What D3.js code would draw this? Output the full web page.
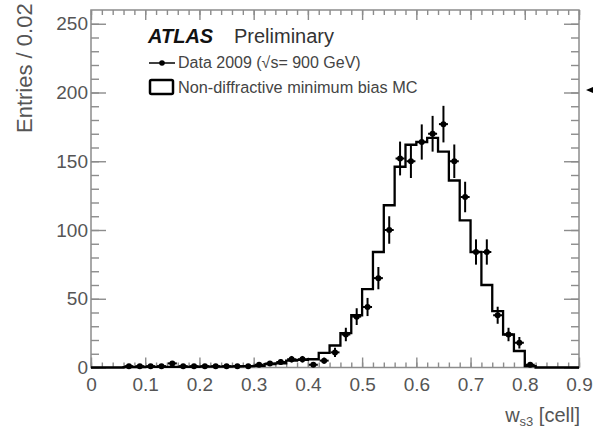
<!DOCTYPE html>
<html>
<head>
<meta charset="utf-8">
<script src="https://cdn.jsdelivr.net/npm/d3@7"></script>
<style>
  body { margin: 0; background: #fff; }
  text { font-family: "Liberation Sans", Arial, sans-serif; }
</style>
</head>
<body>
<div id="chart"></div>
<script>
// bin centres of w_s3, bin width 0.02
var binCenters = [0.01, 0.03, 0.05, 0.07, 0.09, 0.11, 0.13, 0.15, 0.17, 0.19,
    0.21, 0.23, 0.25, 0.27, 0.29, 0.31, 0.33, 0.35, 0.37, 0.39,
    0.41, 0.43, 0.45, 0.47, 0.49, 0.51, 0.53, 0.55, 0.57, 0.59,
    0.61, 0.63, 0.65, 0.67, 0.69, 0.71, 0.73, 0.75, 0.77, 0.79,
    0.81, 0.83, 0.85, 0.87, 0.89];
var binWidth = 0.02;

// non-diffractive minimum bias MC (histogram)
var mcValues = [0, 0, 0, 0.3, 0.3, 0.4, 0.4, 0.5, 0.5, 0.5,
    0.6, 0.6, 0.7, 0.8, 1.0, 1.2, 2.5, 3, 5, 5.5,
    6, 10.6, 16, 25, 38, 57, 84, 118, 146, 162,
    164, 167, 157, 136, 107, 84, 60, 41, 24, 12,
    1, 0, 0, 0, 0];

// Data 2009, 900 GeV
var dataValues = [0, 0, 0, 1, 1, 1, 1, 3, 1, 1,
    1, 1, 1, 1, 1, 2, 3, 4, 6, 6,
    2, 5, 11, 24, 37, 44, 65, 100, 152, 150,
    164, 170, 177, 150, 124, 84, 84, 38, 24, 18,
    2, 0, 0, 0, 0];
var dataErrors = [0, 0, 0, 1, 1, 1, 1, 1.7, 1, 1,
    1, 1, 1, 1, 1, 1.4, 1.7, 2, 2.4, 2.4,
    1.4, 2.2, 3.3, 4.9, 6.1, 6.6, 8.1, 10, 12.3, 12.2,
    12.8, 13, 13.3, 12.2, 11.1, 9.2, 9.2, 6.2, 4.9, 4.2,
    1.4, 0, 0, 0, 0];

var xMajorTicks = [0, 0.1, 0.2, 0.3, 0.4, 0.5, 0.6, 0.7, 0.8, 0.9];
var yMajorTicks = [0, 50, 100, 150, 200, 250];

var width = 593, height = 431;
var frame = {left: 91, right: 579, top: 10, bottom: 367.5};
var axisGrey = "#8c8c8c";
var labelColor = "#555";

var svg = d3.select("#chart").append("svg")
    .attr("width", width)
    .attr("height", height);

var x = d3.scaleLinear().domain([0, 0.9]).range([frame.left, frame.right]);
var y = d3.scaleLinear().domain([0, 260]).range([frame.bottom, frame.top]);

var xMinor = d3.range(0, 0.9001, 0.02).map(function(d) { return +d.toFixed(2); });
var yMinor = d3.range(0, 260, 10);

// frame
svg.append("rect")
    .attr("x", frame.left).attr("y", frame.top)
    .attr("width", frame.right - frame.left)
    .attr("height", frame.bottom - frame.top)
    .attr("fill", "none")
    .attr("stroke", axisGrey)
    .attr("stroke-width", 1.5);

function styleAxis(g) {
    g.select(".domain").remove();
    g.selectAll("line").attr("stroke", axisGrey).attr("stroke-width", 1.4);
    g.selectAll("text")
        .attr("fill", labelColor)
        .style("font-size", "19px")
        .style("font-family", "'Liberation Sans', Arial, sans-serif");
}

// bottom axis
svg.append("g").attr("transform", "translate(0," + frame.bottom + ")")
    .call(d3.axisBottom(x).tickValues(xMinor).tickSize(-5).tickFormat(""))
    .call(styleAxis);
svg.append("g").attr("transform", "translate(0," + frame.bottom + ")")
    .call(d3.axisBottom(x).tickValues(xMajorTicks).tickSize(-10).tickPadding(10)
        .tickFormat(function(d) { return d === 0 ? "0" : d3.format(".1f")(d); }))
    .call(styleAxis);
// top axis
svg.append("g").attr("transform", "translate(0," + frame.top + ")")
    .call(d3.axisTop(x).tickValues(xMinor).tickSize(-5).tickFormat(""))
    .call(styleAxis);
svg.append("g").attr("transform", "translate(0," + frame.top + ")")
    .call(d3.axisTop(x).tickValues(xMajorTicks).tickSize(-10).tickFormat(""))
    .call(styleAxis);

// left axis
svg.append("g").attr("transform", "translate(" + frame.left + ",0)")
    .call(d3.axisLeft(y).tickValues(yMinor).tickSize(-8).tickFormat(""))
    .call(styleAxis);
svg.append("g").attr("transform", "translate(" + frame.left + ",0)")
    .call(d3.axisLeft(y).tickValues(yMajorTicks).tickSize(-15).tickPadding(3))
    .call(styleAxis);
// right axis
svg.append("g").attr("transform", "translate(" + frame.right + ",0)")
    .call(d3.axisRight(y).tickValues(yMinor).tickSize(-8).tickFormat(""))
    .call(styleAxis);
svg.append("g").attr("transform", "translate(" + frame.right + ",0)")
    .call(d3.axisRight(y).tickValues(yMajorTicks).tickSize(-15).tickFormat(""))
    .call(styleAxis);

// MC histogram as a step line
var steps = binCenters.map(function(c, i) {
    return [c - binWidth / 2, mcValues[i]];
});
steps.push([binCenters[binCenters.length - 1] + binWidth / 2, mcValues[mcValues.length - 1]]);
var stepLine = d3.line()
    .x(function(d) { return x(d[0]); })
    .y(function(d) { return y(d[1]); })
    .curve(d3.curveStepAfter);
svg.append("path")
    .datum(steps)
    .attr("d", stepLine)
    .attr("fill", "none")
    .attr("stroke", "#000")
    .attr("stroke-width", 2.3);

// data points with error bars
var points = binCenters.map(function(c, i) {
    return {x: c, v: dataValues[i], e: dataErrors[i]};
}).filter(function(d) { return d.v > 0; });

var pts = svg.append("g").selectAll("g")
    .data(points)
    .enter().append("g");
pts.append("line")
    .attr("x1", function(d) { return x(d.x); })
    .attr("x2", function(d) { return x(d.x); })
    .attr("y1", function(d) { return y(d.v - d.e); })
    .attr("y2", function(d) { return y(d.v + d.e); })
    .attr("stroke", "#000").attr("stroke-width", 2);
pts.append("line")
    .attr("x1", function(d) { return x(d.x) - 4.5; })
    .attr("x2", function(d) { return x(d.x) + 4.5; })
    .attr("y1", function(d) { return y(d.v); })
    .attr("y2", function(d) { return y(d.v); })
    .attr("stroke", "#000").attr("stroke-width", 2);
pts.append("circle")
    .attr("cx", function(d) { return x(d.x); })
    .attr("cy", function(d) { return y(d.v); })
    .attr("r", 3)
    .attr("fill", "#000");

// legend
svg.append("text")
    .attr("x", 148).attr("y", 43)
    .style("font-size", "20px")
    .style("font-weight", "bold")
    .style("font-style", "italic")
    .attr("fill", "#111")
    .text("ATLAS");
svg.append("text")
    .attr("x", 234).attr("y", 43)
    .style("font-size", "20px")
    .attr("fill", "#333")
    .text("Preliminary");

svg.append("line")
    .attr("x1", 149).attr("x2", 175).attr("y1", 63).attr("y2", 63)
    .attr("stroke", "#000").attr("stroke-width", 1.5);
svg.append("circle")
    .attr("cx", 162).attr("cy", 63).attr("r", 2.8).attr("fill", "#000");
svg.append("text")
    .attr("x", 178).attr("y", 68)
    .style("font-size", "16px")
    .attr("fill", "#444")
    .text("Data 2009 (\u221As= 900 GeV)");

svg.append("rect")
    .attr("x", 150).attr("y", 80).attr("width", 23).attr("height", 14)
    .attr("rx", 1.5)
    .attr("fill", "none").attr("stroke", "#000").attr("stroke-width", 2.5);
svg.append("text")
    .attr("x", 178).attr("y", 93)
    .style("font-size", "16.3px")
    .attr("fill", "#444")
    .text("Non-diffractive minimum bias MC");

// axis titles
svg.append("text")
    .attr("transform", "translate(32,133) rotate(-90)")
    .style("font-size", "22px")
    .attr("fill", labelColor)
    .text("Entries / 0.02");

var xt = svg.append("text")
    .attr("x", 580).attr("y", 422)
    .attr("text-anchor", "end")
    .style("font-size", "20px")
    .attr("fill", labelColor);
xt.append("tspan").text("w");
xt.append("tspan").attr("dy", 4).style("font-size", "13px").text("s3");
xt.append("tspan").attr("dy", -4).text(" [cell]");

// little marker cut off at the right edge
svg.append("path")
    .attr("d", "M586,90 L593,87 L593,93 Z")
    .attr("fill", "#000");
</script>
</body>
</html>
